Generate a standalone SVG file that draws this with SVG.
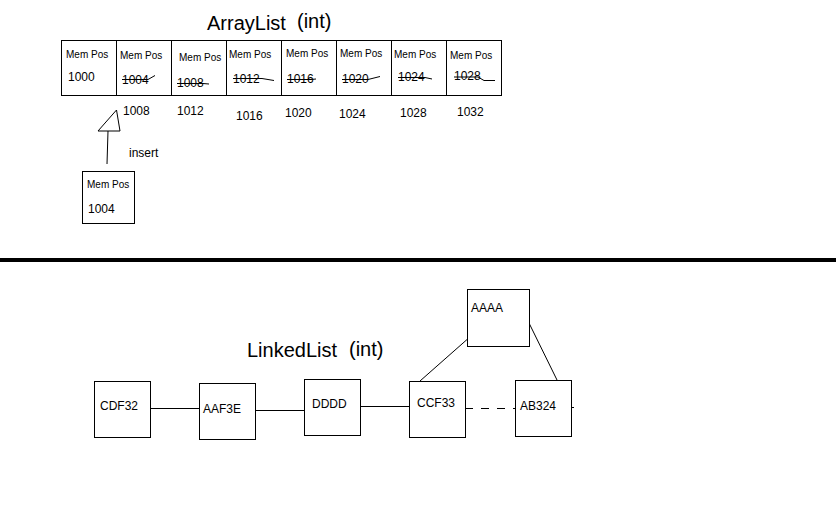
<svg xmlns="http://www.w3.org/2000/svg" width="836" height="530" viewBox="0 0 836 530">
<style>
text{font-family:"Liberation Sans",Arial,sans-serif;fill:#000}
.s{font-size:10px}.n{font-size:12px}.t{font-size:20px}
.b{fill:#fff;stroke:#000;stroke-width:1}
.l{fill:none;stroke:#000;stroke-width:1}
</style>
<rect width="836" height="530" fill="#fff"/>
<text class="t" x="207" y="30">ArrayList</text><text class="t" x="297" y="28">(int)</text>
<g id="array">
<rect class="b" x="61.5" y="40.5" width="440" height="55"/>
<path class="l" d="M116.5 40.5V95.5M171.5 40.5V95.5M226.5 40.5V95.5M281.5 40.5V95.5M336.5 40.5V95.5M391.5 40.5V95.5M446.5 40.5V95.5"/>
<text class="s" x="66" y="58">Mem Pos</text><text class="n" x="68" y="81">1000</text>
<text class="s" x="120" y="59">Mem Pos</text><text class="n" x="122" y="84">1004</text>
<text class="s" x="179" y="61">Mem Pos</text><text class="n" x="177" y="87">1008</text>
<text class="s" x="229" y="58">Mem Pos</text><text class="n" x="233" y="83">1012</text>
<text class="s" x="286" y="57">Mem Pos</text><text class="n" x="287" y="83">1016</text>
<text class="s" x="340" y="57">Mem Pos</text><text class="n" x="342" y="83">1020</text>
<text class="s" x="394" y="58">Mem Pos</text><text class="n" x="398" y="81">1024</text>
<text class="s" x="450" y="59">Mem Pos</text><text class="n" x="454" y="80">1028</text>
<path class="l" d="M122 79.5H148L155 75.5M177 83.5H203L209 84M233 78.5H262L274 80.5M287 79.5H311L316 79M342 79.5H368L380 76.5M398 77.5H425L432 79M454 77H478L484 80.5H495"/>
</g>
<g id="below">
<text class="n" x="123" y="115">1008</text><text class="n" x="177" y="115">1012</text><text class="n" x="236" y="120">1016</text><text class="n" x="285" y="117">1020</text><text class="n" x="339" y="118">1024</text><text class="n" x="400" y="117">1028</text><text class="n" x="457" y="116">1032</text>
</g>
<g id="connectors-top">
<path class="l" d="M116.5 110L98 131H120Z M108 131L107 164"/>
<text class="n" x="129" y="157">insert</text>
</g>
<g id="insert-node">
<rect class="b" x="82.5" y="171.5" width="52" height="52"/>
<text class="s" x="87" y="188">Mem Pos</text><text class="n" x="88" y="213">1004</text>
</g>
<line x1="0" y1="260" x2="836" y2="260" stroke="#000" stroke-width="4"/>
<text class="t" x="247" y="357">LinkedList</text><text class="t" x="349" y="356">(int)</text>
<g id="connectors">
<path class="l" d="M150 408.5H199M255 410.5H304M360 406.5H409M420 381L471 336M529 323L558 382M571 407.5H574"/>
<path class="l" d="M465 408.5H515" stroke-dasharray="8,8"/>
</g>
<g id="CDF32"><rect class="b" x="94.5" y="381.5" width="56" height="56"/><text class="n" x="100" y="410">CDF32</text></g>
<g id="AAF3E"><rect class="b" x="199.5" y="383.5" width="56" height="56"/><text class="n" x="203" y="413">AAF3E</text></g>
<g id="DDDD"><rect class="b" x="304.5" y="379.5" width="56" height="56"/><text class="n" x="312" y="408">DDDD</text></g>
<g id="CCF33"><rect class="b" x="409.5" y="381.5" width="56" height="56"/><text class="n" x="417" y="407">CCF33</text></g>
<g id="AB324"><rect class="b" x="515.5" y="380.5" width="56" height="56"/><text class="n" x="520" y="410">AB324</text></g>
<g id="AAAA"><rect class="b" x="467.5" y="289.5" width="62" height="57"/><text class="n" x="471" y="312">AAAA</text></g>
</svg>
